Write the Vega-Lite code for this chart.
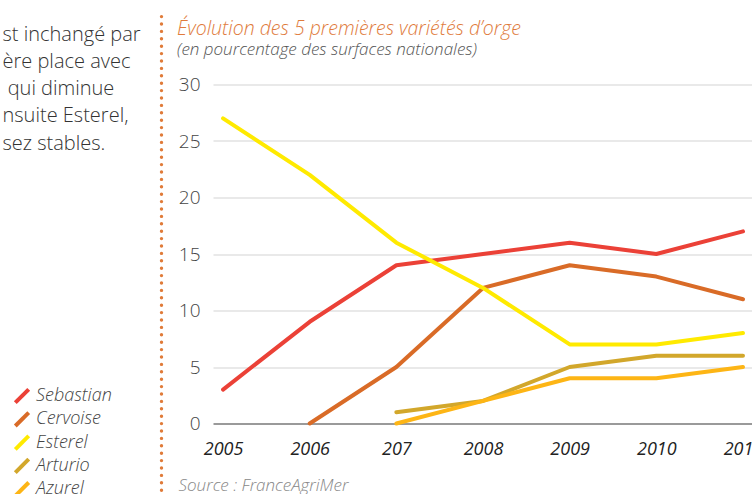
{
  "$schema": "https://vega.github.io/schema/vega-lite/v6.json",
  "width": 539,
  "height": 339,
  "autosize": {"type": "none"},
  "padding": {"left": 213, "top": 84.5, "right": 0, "bottom": 70.5},
  "background": "white",
  "config": {"view": {"stroke": null}, "font": "Open Sans"},
  "title": {
    "text": "Évolution des 5 premières variétés d’orge",
    "subtitle": "(en pourcentage des surfaces nationales)",
    "anchor": "start",
    "frame": "group",
    "dx": -36,
    "dy": 35,
    "offset": 0,
    "fontSize": 19.5,
    "fontStyle": "italic",
    "fontWeight": 300,
    "color": "#E07B3C",
    "subtitleFontSize": 17,
    "subtitleFontStyle": "italic",
    "subtitleFontWeight": 300,
    "subtitleColor": "#555555",
    "subtitlePadding": 3
  },
  "data": {
    "values": [
      {"variety": "Sebastian", "year": 2005, "value": 3},
      {"variety": "Sebastian", "year": 2006, "value": 9},
      {"variety": "Sebastian", "year": 2007, "value": 14},
      {"variety": "Sebastian", "year": 2008, "value": 15},
      {"variety": "Sebastian", "year": 2009, "value": 16},
      {"variety": "Sebastian", "year": 2010, "value": 15},
      {"variety": "Sebastian", "year": 2011, "value": 17},
      {"variety": "Cervoise", "year": 2006, "value": 0},
      {"variety": "Cervoise", "year": 2007, "value": 5},
      {"variety": "Cervoise", "year": 2008, "value": 12},
      {"variety": "Cervoise", "year": 2009, "value": 14},
      {"variety": "Cervoise", "year": 2010, "value": 13},
      {"variety": "Cervoise", "year": 2011, "value": 11},
      {"variety": "Esterel", "year": 2005, "value": 27},
      {"variety": "Esterel", "year": 2006, "value": 22},
      {"variety": "Esterel", "year": 2007, "value": 16},
      {"variety": "Esterel", "year": 2008, "value": 12},
      {"variety": "Esterel", "year": 2009, "value": 7},
      {"variety": "Esterel", "year": 2010, "value": 7},
      {"variety": "Esterel", "year": 2011, "value": 8},
      {"variety": "Arturio", "year": 2007, "value": 1},
      {"variety": "Arturio", "year": 2008, "value": 2},
      {"variety": "Arturio", "year": 2009, "value": 5},
      {"variety": "Arturio", "year": 2010, "value": 6},
      {"variety": "Arturio", "year": 2011, "value": 6},
      {"variety": "Azurel", "year": 2007, "value": 0},
      {"variety": "Azurel", "year": 2008, "value": 2},
      {"variety": "Azurel", "year": 2009, "value": 4},
      {"variety": "Azurel", "year": 2010, "value": 4},
      {"variety": "Azurel", "year": 2011, "value": 5}
    ]
  },
  "layer": [
    {
      "mark": {"type": "line", "strokeWidth": 4, "strokeCap": "round", "strokeJoin": "round"},
      "encoding": {
        "x": {
          "field": "year",
          "type": "quantitative",
          "scale": {"domain": [2004.884, 2011.104], "nice": false, "zero": false},
          "axis": {
            "values": [2005, 2006, 2007, 2008, 2009, 2010, 2011],
            "labelExpr": "datum.value == 2007 ? '207' : format(datum.value, 'd')",
            "ticks": false,
            "domain": false,
            "grid": false,
            "labelFlush": false,
            "labelBound": false,
            "labelOverlap": false,
            "labelPadding": 17,
            "labelFontSize": 18,
            "labelFontStyle": "italic",
            "labelFontWeight": 400,
            "labelColor": "#222222",
            "title": "Source : FranceAgriMer",
            "titleX": -35,
            "titleY": 67,
            "titleAlign": "left",
            "titleBaseline": "alphabetic",
            "titleFontSize": 17,
            "titleFontStyle": "italic",
            "titleFontWeight": 300,
            "titleColor": "#888888"
          }
        },
        "y": {
          "field": "value",
          "type": "quantitative",
          "scale": {"domain": [0, 30], "nice": false},
          "axis": {
            "values": [0, 5, 10, 15, 20, 25, 30],
            "ticks": false,
            "domain": false,
            "gridColor": {"condition": {"test": "datum.value === 0", "value": "#9a9a9a"}, "value": "#d4d4d4"},
            "gridWidth": {"condition": {"test": "datum.value === 0", "value": 2}, "value": 1.2},
            "labelPadding": 13,
            "labelFontSize": 19,
            "labelFontWeight": 300,
            "labelColor": "#444444",
            "title": ["st inchangé par", "ère place avec", "\u200b\u00a0qui diminue", "nsuite Esterel,", "sez stables."],
            "titleAngle": 0,
            "titleAlign": "left",
            "titleBaseline": "alphabetic",
            "titleX": -211,
            "titleY": -44.5,
            "titleFontSize": 20,
            "titleFontWeight": 300,
            "titleColor": "#333333",
            "titleLineHeight": 27.3
          }
        },
        "color": {
          "field": "variety",
          "type": "nominal",
          "scale": {
            "domain": ["Sebastian", "Cervoise", "Esterel", "Arturio", "Azurel"],
            "range": ["#EB4137", "#D96B27", "#FFEA00", "#D2A72B", "#FDB515"]
          },
          "legend": {
            "orient": "none",
            "legendX": -200,
            "legendY": 303,
            "title": null,
            "padding": 0,
            "symbolType": "M-1,1L1,-1",
            "symbolSize": 180,
            "symbolStrokeWidth": 4,
            "clipHeight": 17,
            "labelFontSize": 18,
            "labelFontStyle": "italic",
            "labelFontWeight": 300,
            "labelColor": "#444444",
            "labelOffset": 5,
            "rowPadding": 4.3
          }
        }
      }
    },
    {
      "mark": {"type": "point", "opacity": 0},
      "encoding": {
        "y": {
          "field": "value",
          "type": "quantitative",
          "scale": {"domain": [0, 30], "nice": false, "range": [420, -71.5]},
          "axis": {
            "orient": "left",
            "offset": 52,
            "labels": false,
            "ticks": false,
            "grid": false,
            "title": null,
            "domainColor": "#E07B39",
            "domainDash": [0, 7.4],
            "domainCap": "round",
            "domainWidth": 3.4
          }
        }
      }
    }
  ],
  "resolve": {"scale": {"y": "independent"}, "axis": {"y": "independent"}}
}
